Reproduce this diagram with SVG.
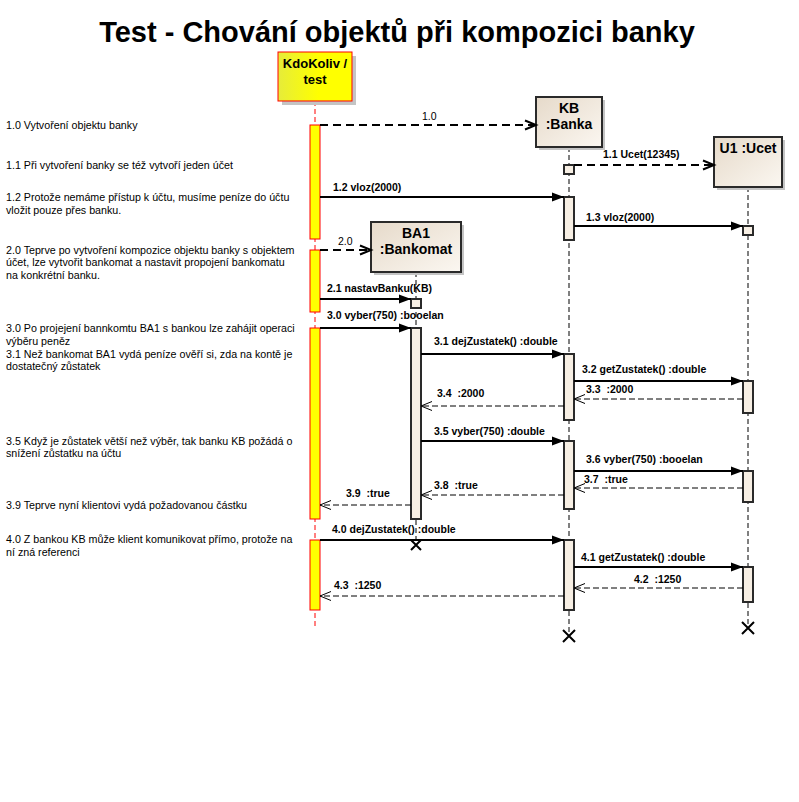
<svg xmlns="http://www.w3.org/2000/svg" width="799" height="802" viewBox="0 0 799 802">
<defs>
<style>
text{font-family:"Liberation Sans",Arial,sans-serif;fill:#000}
.title{font-size:29px;font-weight:bold}
.desc{font-size:10.7px}
.lbl{font-size:10.5px;font-weight:bold}
.lbln{font-size:10.5px}
.hdr{font-size:14px;font-weight:bold;text-anchor:middle}
.hdr13{font-size:13px;font-weight:bold;text-anchor:middle}
.life{stroke:#000;stroke-width:1;stroke-dasharray:5,3;fill:none}
.lifeR{stroke:#FF0000;stroke-width:1;stroke-dasharray:5,3;fill:none}
.obj{fill:url(#gObj);stroke:#2a2a2a;stroke-width:2}
.shadow{fill:#C4C4C4}
.act{fill:#F7EFE4;stroke:#2a2a2a;stroke-width:2}
.uact{fill:#FFFF00;stroke:#FF0000;stroke-width:1}
.sync{stroke:#000;stroke-width:2;fill:none;marker-end:url(#mFill)}
.ret{stroke:#000;stroke-width:1;stroke-dasharray:6,3;fill:none;marker-end:url(#mOpen)}
.create{stroke:#000;stroke-width:2;stroke-dasharray:8,5;fill:none;marker-end:url(#mOpenT)}
.x{stroke:#000;stroke-width:2;fill:none}
</style>
<linearGradient id="gObj" x1="0" y1="0" x2="1" y2="1">
<stop offset="0" stop-color="#E6DACA"/>
<stop offset="1" stop-color="#FBF7F1"/>
</linearGradient>
<linearGradient id="gUser" x1="0" y1="0" x2="1" y2="0">
<stop offset="0" stop-color="#E6EC3A"/>
<stop offset="0.55" stop-color="#FFFF00"/>
<stop offset="1" stop-color="#FFFF00"/>
</linearGradient>
<marker id="mFill" markerUnits="userSpaceOnUse" markerWidth="13" markerHeight="10" refX="12" refY="4.5" orient="auto" overflow="visible">
<path d="M0,0 L12,4.5 L0,9 z" fill="#000"/>
</marker>
<marker id="mOpen" markerUnits="userSpaceOnUse" markerWidth="12" markerHeight="10" refX="11" refY="4.5" orient="auto" overflow="visible">
<path d="M0,0 L11,4.5 L0,9" fill="none" stroke="#000" stroke-width="1"/>
</marker>
<marker id="mOpenT" markerUnits="userSpaceOnUse" markerWidth="12" markerHeight="10" refX="11" refY="4.5" orient="auto" overflow="visible">
<path d="M0,0 L11,4.5 L0,9" fill="none" stroke="#000" stroke-width="2"/>
</marker>
</defs>
<rect x="0" y="0" width="799" height="802" fill="#FFFFFF"/>

<text class="title" x="397" y="42" text-anchor="middle">Test - Chování objektů při kompozici banky</text>

<g id="notes">
<text class="desc" x="6" y="129">1.0 Vytvoření objektu banky</text>
<text class="desc" x="6" y="168.5">1.1 Při vytvoření banky se též vytvoří jeden účet</text>
<text class="desc" x="6" y="201">1.2 Protože nemáme přístup k účtu, musíme peníze do účtu</text>
<text class="desc" x="6" y="213.5">vložit pouze přes banku.</text>
<text class="desc" x="6" y="253.5">2.0 Teprve po vytvoření kompozice objektu banky s objektem</text>
<text class="desc" x="6" y="266">účet, lze vytvořit bankomat a nastavit propojení bankomatu</text>
<text class="desc" x="6" y="278.5">na konkrétní banku.</text>
<text class="desc" x="6" y="332">3.0 Po projejení bannkomtu BA1 s bankou lze zahájit operaci</text>
<text class="desc" x="6" y="344.5">výběru peněz</text>
<text class="desc" x="6" y="357.5">3.1 Než bankomat BA1 vydá peníze ověří si, zda na kontě je</text>
<text class="desc" x="6" y="370">dostatečný zůstatek</text>
<text class="desc" x="6" y="444.5">3.5 Když je zůstatek větší než výběr, tak banku KB požádá o</text>
<text class="desc" x="6" y="457">snížení zůstatku na účtu</text>
<text class="desc" x="6" y="508.5">3.9 Teprve nyní klientovi vydá požadovanou částku</text>
<text class="desc" x="6" y="542.5">4.0 Z bankou KB může klient komunikovat přímo, protože na</text>
<text class="desc" x="6" y="555.5">ní zná referenci</text>
</g>

<g id="KdoKoliv">
<line class="lifeR" x1="315" y1="101" x2="315" y2="626"/>
<rect class="shadow" x="282" y="56" width="74" height="49"/>
<rect x="278" y="52" width="74" height="49" fill="url(#gUser)" stroke="#FF0000" stroke-width="1"/>
<text class="hdr13" x="315" y="68">KdoKoliv /</text>
<text class="hdr13" x="315" y="83.5">test</text>
<rect class="uact" x="310" y="125" width="10" height="114"/>
<rect class="uact" x="310" y="250" width="10" height="62"/>
<rect class="uact" x="310" y="328" width="10" height="191"/>
<rect class="uact" x="310" y="540" width="10" height="70"/>
</g>

<g id="KB">
<line class="life" x1="569" y1="147" x2="569" y2="636"/>
<rect class="shadow" x="539" y="100" width="66" height="50"/>
<rect class="obj" x="536" y="97" width="66" height="50"/>
<text class="hdr" x="569" y="113">KB</text>
<text class="hdr" x="569" y="129">:Banka</text>
<rect class="act" x="564" y="165" width="10" height="9"/>
<rect class="act" x="564" y="197" width="10" height="43"/>
<rect class="act" x="564" y="354" width="10" height="66"/>
<rect class="act" x="564" y="441" width="10" height="68"/>
<rect class="act" x="564" y="540" width="10" height="70"/>
<path class="x" d="M563,630 L575,642 M575,630 L563,642"/>
</g>

<g id="U1">
<line class="life" x1="748" y1="187" x2="748" y2="628"/>
<rect class="shadow" x="717" y="140" width="68" height="50"/>
<rect class="obj" x="714" y="137" width="68" height="50"/>
<text class="hdr" x="748" y="153">U1 :Ucet</text>
<rect class="act" x="743" y="226" width="10" height="9"/>
<rect class="act" x="743" y="381" width="10" height="32"/>
<rect class="act" x="743" y="471" width="10" height="31"/>
<rect class="act" x="743" y="567" width="10" height="35"/>
<path class="x" d="M742,622 L754,634 M754,622 L742,634"/>
</g>

<g id="BA1">
<line class="life" x1="416" y1="272" x2="416" y2="545"/>
<rect class="shadow" x="374" y="225" width="90" height="50"/>
<rect class="obj" x="371" y="222" width="90" height="50"/>
<text class="hdr" x="416" y="238">BA1</text>
<text class="hdr" x="416" y="254">:Bankomat</text>
<rect class="act" x="411" y="299" width="10" height="9"/>
<rect class="act" x="411" y="328" width="10" height="191"/>
<path class="x" d="M411,540 L421,550 M421,540 L411,550"/>
</g>

<g id="connectors">
<line class="create" x1="320" y1="125" x2="536" y2="125"/>
<text class="lbln" x="422" y="120">1.0</text>
<line class="create" x1="574" y1="165" x2="714" y2="165"/>
<text class="lbl" x="603" y="158">1.1 Ucet(12345)</text>
<line class="sync" x1="320" y1="197" x2="564" y2="197"/>
<text class="lbl" x="333" y="191">1.2 vloz(2000)</text>
<line class="sync" x1="574" y1="226" x2="743" y2="226"/>
<text class="lbl" x="586" y="221">1.3 vloz(2000)</text>
<line class="create" x1="320" y1="250" x2="371" y2="250"/>
<text class="lbln" x="338" y="245">2.0</text>
<line class="sync" x1="320" y1="299" x2="411" y2="299"/>
<text class="lbl" x="327" y="292">2.1 nastavBanku(KB)</text>
<line class="sync" x1="320" y1="328" x2="411" y2="328"/>
<text class="lbl" x="327" y="319">3.0 vyber(750) :booelan</text>
<line class="sync" x1="421" y1="354" x2="564" y2="354"/>
<text class="lbl" x="434" y="345">3.1 dejZustatek() :double</text>
<line class="sync" x1="574" y1="381" x2="743" y2="381"/>
<text class="lbl" x="582" y="373">3.2 getZustatek() :double</text>
<line class="ret" x1="743" y1="399" x2="574" y2="399"/>
<text class="lbl" x="586" y="393" xml:space="preserve">3.3  :2000</text>
<line class="ret" x1="564" y1="406" x2="421" y2="406"/>
<text class="lbl" x="437" y="397" xml:space="preserve">3.4  :2000</text>
<line class="sync" x1="421" y1="441" x2="564" y2="441"/>
<text class="lbl" x="434" y="435">3.5 vyber(750) :double</text>
<line class="sync" x1="574" y1="471" x2="743" y2="471"/>
<text class="lbl" x="586" y="463">3.6 vyber(750) :booelan</text>
<line class="ret" x1="743" y1="488" x2="574" y2="488"/>
<text class="lbl" x="584" y="483" xml:space="preserve">3.7  :true</text>
<line class="ret" x1="564" y1="495" x2="421" y2="495"/>
<text class="lbl" x="434" y="489" xml:space="preserve">3.8  :true</text>
<line class="ret" x1="411" y1="505" x2="320" y2="505"/>
<text class="lbl" x="346" y="497" xml:space="preserve">3.9  :true</text>
<line class="sync" x1="320" y1="540" x2="564" y2="540"/>
<text class="lbl" x="332" y="533">4.0 dejZustatek() :double</text>
<line class="sync" x1="574" y1="567" x2="743" y2="567"/>
<text class="lbl" x="581" y="561">4.1 getZustatek() :double</text>
<line class="ret" x1="743" y1="588" x2="574" y2="588"/>
<text class="lbl" x="634" y="583" xml:space="preserve">4.2  :1250</text>
<line class="ret" x1="564" y1="596" x2="320" y2="596"/>
<text class="lbl" x="334" y="589" xml:space="preserve">4.3  :1250</text>
</g>
</svg>
